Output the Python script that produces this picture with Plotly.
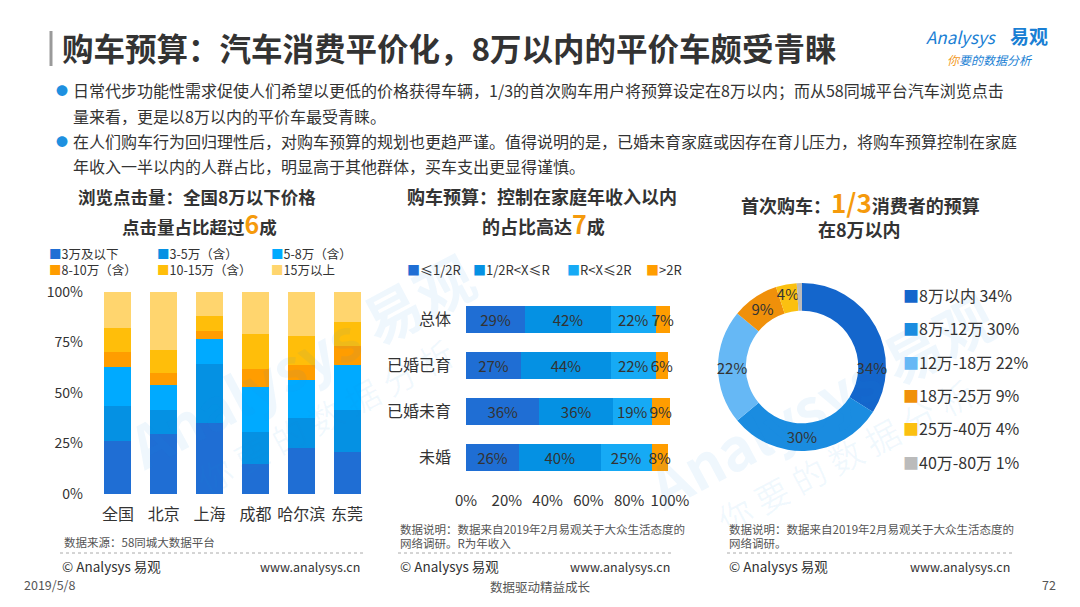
import plotly.graph_objects as go

W, H = 1080, 607
OFF = 8  # page body margin
FONT = "Noto Sans CJK SC"

# chart 1: 58同城 click share by price band
cities = ["全国", "北京", "上海", "成都", "哈尔滨", "东莞"]
click_bands = ["3万及以下", "3-5万（含）", "5-8万（含）", "8-10万（含）", "10-15万（含）", "15万以上"]
band_3w = [26.0, 29.8, 35.3, 14.8, 22.9, 20.9]
band_3_5w = [17.8, 12.0, 29.3, 16.0, 14.8, 20.9]
band_5_8w = [19.3, 12.4, 12.3, 22.2, 18.5, 22.1]
band_8_10w = [7.1, 5.9, 3.8, 9.1, 7.9, 9.2]
band_10_15w = [11.8, 11.1, 7.3, 17.0, 14.0, 11.9]
band_15w = [18.0, 28.8, 12.0, 20.9, 21.9, 15.0]
click_colors = ["#1F6ED4", "#0591E3", "#00AAFF", "#FF9D00", "#FFBE0A", "#FFD56E"]

# chart 2: budget vs annual income R
groups = ["总体", "已婚已育", "已婚未育", "未婚"]
budget_bands = ["≤1/2R", "1/2R<X≤R", "R<X≤2R", ">2R"]
le_half_r = [29, 27, 36, 26]
half_to_r = [42, 44, 36, 40]
r_to_2r = [22, 22, 19, 25]
over_2r = [7, 6, 9, 8]
budget_colors = ["#1F6ED4", "#0591E3", "#16AAF5", "#FF9D00"]

# chart 3: first car budget
first_bands = ["8万以内", "8万-12万", "12万-18万", "18万-25万", "25万-40万", "40万-80万"]
first_share = [34, 30, 22, 9, 4, 1]
first_colors = ["#1466CC", "#1A8CE0", "#66B8F5", "#F0900A", "#FBC010", "#BBBBBB"]


def px(x):
    return (x - OFF) / W


def py(y):
    return 1 - (y - OFF) / H


def esc(s):
    return s.replace("<", "&lt;").replace(">", "&gt;")


fig = go.Figure()

click_series = [band_3w, band_3_5w, band_5_8w, band_8_10w, band_10_15w, band_15w]
for name, vals, col in zip(click_bands, click_series, click_colors):
    fig.add_trace(go.Bar(x=cities, y=vals, name=name, marker_color=col,
                         marker_line_width=0, xaxis="x", yaxis="y",
                         showlegend=False, hoverinfo="skip"))

budget_series = [le_half_r, half_to_r, r_to_2r, over_2r]
for name, vals, col in zip(budget_bands, budget_series, budget_colors):
    fig.add_trace(go.Bar(y=groups, x=vals, name=name, orientation="h",
                         marker_color=col, marker_line_width=0,
                         xaxis="x2", yaxis="y2", showlegend=False,
                         text=[f"{v}%" for v in vals], textposition="inside",
                         insidetextanchor="middle", constraintext="none",
                         textangle=0, cliponaxis=False,
                         textfont=dict(size=15, color="#333333", family=FONT),
                         hoverinfo="skip"))

fig.add_trace(go.Pie(labels=first_bands, values=first_share, hole=0.67,
                     sort=False, direction="clockwise", rotation=0,
                     marker=dict(colors=first_colors, line=dict(width=0)),
                     text=[f"{v}%" if v > 1 else "" for v in first_share],
                     textinfo="text", textposition="inside",
                     insidetextorientation="horizontal",
                     textfont=dict(size=15, color="#333333", family=FONT),
                     domain=dict(x=[px(718), px(886)], y=[py(451), py(283)]),
                     showlegend=False, hoverinfo="skip"))

axis_font = dict(family=FONT, size=14, color="#333333")
fig.update_layout(
    template="none",
    width=W, height=H, margin=dict(l=0, r=0, t=0, b=0, pad=0, autoexpand=False),
    paper_bgcolor="white", plot_bgcolor="white",
    barmode="stack", bargap=0.41,
    uniformtext=dict(minsize=14, mode="show"),
    font=dict(family=FONT, color="#333333"),
    xaxis=dict(domain=[px(95), px(370)], range=[-0.5, 5.5], showgrid=False,
               zeroline=False, showline=False, ticks="", fixedrange=True,
               automargin=False, ticklabelstandoff=9,
               tickfont=dict(family=FONT, size=16, color="#333333")),
    yaxis=dict(domain=[py(494), py(292)], range=[0, 100], showgrid=False,
               zeroline=False, showline=False, ticks="", automargin=False,
               tickvals=[0, 25, 50, 75, 100],
               ticktext=["0%", "25%", "50%", "75%", "100%"],
               ticklabelstandoff=11, tickfont=axis_font),
    xaxis2=dict(domain=[px(466), px(670)], range=[0, 100], anchor="y2",
                showgrid=False, zeroline=False, showline=False, ticks="",
                automargin=False,
                tickvals=[0, 20, 40, 60, 80, 100],
                ticktext=["0%", "20%", "40%", "60%", "80%", "100%"],
                ticklabelstandoff=10, tickfont=dict(family=FONT, size=15, color="#333333")),
    yaxis2=dict(domain=[py(480), py(297)], anchor="x2", autorange="reversed",
                showgrid=False, zeroline=False, showline=False, ticks="",
                automargin=False, ticklabelstandoff=14,
                tickfont=dict(family=FONT, size=16, color="#333333")),
)

ann = []


def text(x, y, s, size=14, color="#333333", xanchor="left", bold=False, **kw):
    if bold:
        s = f"<b>{s}</b>"
    ann.append(dict(x=px(x), y=py(y), xref="paper", yref="paper", text=s,
                    showarrow=False, xanchor=xanchor, yanchor="middle",
                    font=dict(family=FONT, size=size, color=color), **kw))


# watermarks
for wx, wy in [(300, 360), (820, 400)]:
    text(wx, wy, "Analysys 易观", size=58, color="rgba(30,144,224,0.07)",
         xanchor="center", textangle=-28, bold=True)
    text(wx + 25, wy + 55, "你 要 的 数 据 分 析", size=34,
         color="rgba(30,144,224,0.06)", xanchor="center", textangle=-28)

# header
text(60, 47, "购车预算：汽车消费平价化，8万以内的平价车颇受青睐", size=31.5,
     color="#333333", bold=True)
text(924, 37, "<i>Analysys</i>", size=17, color="#1A7FD4")
text(1008, 36, "易观", size=19, color="#1A7FD4", bold=True)
text(945, 59, "<i><span style='color:#F29A1E'>你</span>要的数据分析</i>",
     size=12, color="#1A7FD4")

bullets = [
    (90, "日常代步功能性需求促使人们希望以更低的价格获得车辆，1/3的首次购车用户将预算设定在8万以内；而从58同城平台汽车浏览点击", True),
    (116, "量来看，更是以8万以内的平价车最受青睐。", False),
    (141, "在人们购车行为回归理性后，对购车预算的规划也更趋严谨。值得说明的是，已婚未育家庭或因存在育儿压力，将购车预算控制在家庭", True),
    (166, "年收入一半以内的人群占比，明显高于其他群体，买车支出更显得谨慎。", False),
]
for y, s, dot in bullets:
    if dot:
        text(54, y, "●", size=12, color="#1E90E0")
    text(71, y, s, size=16, color="#333333")

# chart titles
orange = "#F59A0C"
text(197, 196, "浏览点击量：全国8万以下价格", size=17.5, xanchor="center", bold=True)
text(199, 223, f"点击量占比超过<span style='color:{orange};font-size:25px'>6</span>成",
     size=17.5, xanchor="center", bold=True)
text(542, 196, "购车预算：控制在家庭年收入以内", size=18, xanchor="center", bold=True)
text(543, 223, f"的占比高达<span style='color:{orange};font-size:25px'>7</span>成",
     size=18, xanchor="center", bold=True)
text(860, 201, f"首次购车：<span style='color:{orange};font-size:26px'>1/3</span>消费者的预算",
     size=18, xanchor="center", bold=True)
text(859, 229, "在8万以内", size=18, xanchor="center", bold=True)

# chart 1 legend
leg_pos = [(47, 253), (155, 253), (269, 253), (47, 270), (155, 270), (269, 270)]
for (lx, ly), name, col in zip(leg_pos, click_bands, click_colors):
    text(lx, ly, f"<span style='color:{col}'>■</span>{name}", size=12.5)

# chart 2 legend
for lx, name, col in zip([405, 471, 565, 644], budget_bands, budget_colors):
    text(lx, 269, f"<span style='color:{col}'>■</span>{esc(name)}", size=13)

# chart 3 legend
for i, (name, v, col) in enumerate(zip(first_bands, first_share, first_colors)):
    text(901, 295 + 33.3 * i, f"<span style='color:{col}'>■</span>{name} {v}%", size=16)

# footnotes
foot = "#555555"
text(62, 542, "数据来源：58同城大数据平台", size=11.5, color=foot)
text(398, 529, "数据说明：数据来自2019年2月易观关于大众生活态度的", size=11.5, color=foot)
text(398, 543, "网络调研。R为年收入", size=11.5, color=foot)
text(727, 529, "数据说明：数据来自2019年2月易观关于大众生活态度的", size=11.5, color=foot)
text(727, 543, "网络调研。", size=11.5, color=foot)
for x0, x1 in [(60, 362), (398, 672), (727, 1012)]:
    text(x0, 566, "© Analysys 易观", size=13.5, color="#333333")
    text(x1, 566, "www.analysys.cn", size=12.5, color="#333333", xanchor="right")

text(22, 584, "2019/5/8", size=12.5, color="#555555")
text(540, 586, "数据驱动精益成长", size=12.5, color="#555555", xanchor="center")
text(1058, 584, "72", size=12.5, color="#555555", xanchor="right")

shapes = [dict(type="line", xref="paper", yref="paper", x0=px(51), x1=px(51),
               y0=py(31), y1=py(66), line=dict(color="#9A9A9A", width=3))]
for x0, x1 in [(60, 365), (398, 672), (727, 1012)]:
    shapes.append(dict(type="line", xref="paper", yref="paper", x0=px(x0), x1=px(x1),
                       y0=py(553), y1=py(553),
                       line=dict(color="#AAAAAA", width=1, dash="dot")))

fig.update_layout(annotations=ann, shapes=shapes)

fig.write_html("out.html", config={"displayModeBar": False})
